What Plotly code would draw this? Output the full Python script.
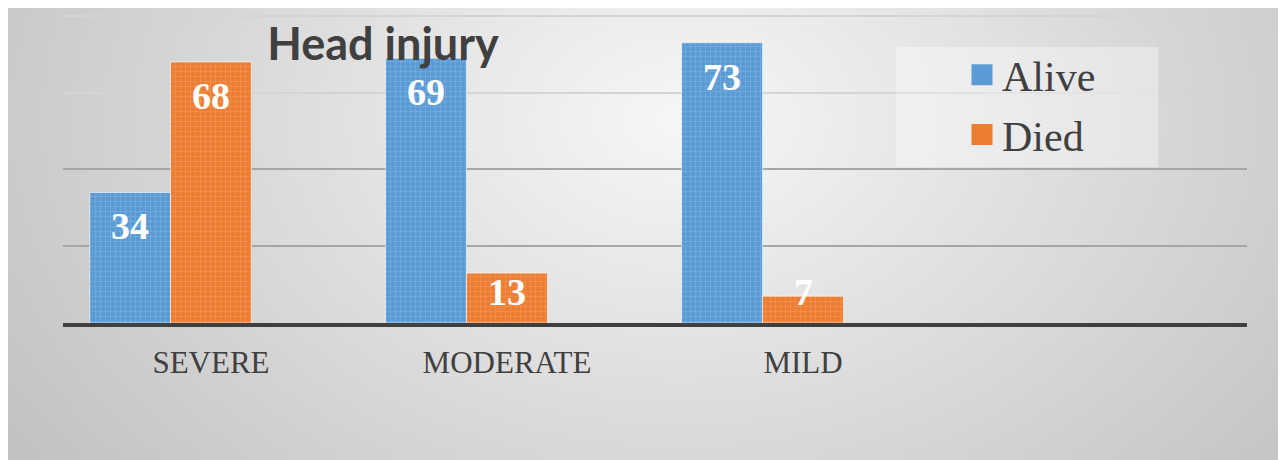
import base64
import struct
import zlib

import numpy as np
import plotly.graph_objects as go

# ---------------- data ----------------
categories = ["SEVERE", "MODERATE", "MILD", " "]
alive = [34, 69, 73, None]
died = [68, 13, 7, None]
spacer = [None, None, None, None]  # empty third series (keeps Excel's 3-slot grouping)
series_names = ["Alive", "Died"]
title_text = "Head injury"

# ---------------- styling ----------------
OFF = 8  # page body margin offset
W, H = 1286 - OFF, 460 - OFF
ML, MR, MT, MB = 63 - OFF, 39, 14 - OFF, 137
PW, PH = W - ML - MR, H - MT - MB
BLUE, ORANGE = "#5B9BD5", "#ED7D31"
BARGAP = 0.18
YMAX = 80.5


def fx(px):  # screen x -> paper x
    return (px - OFF - ML) / PW


def fy(py):  # screen y -> paper y
    return (H - MB - (py - OFF)) / PH


# ---------- background gradient image (radial grey) ----------
def png_gray(arr):
    h, w = arr.shape
    raw = b"".join(b"\x00" + arr[r].tobytes() for r in range(h))

    def chunk(t, d):
        return struct.pack(">I", len(d)) + t + d + struct.pack(">I", zlib.crc32(t + d) & 0xFFFFFFFF)

    return (b"\x89PNG\r\n\x1a\n" + chunk(b"IHDR", struct.pack(">IIBBBBB", w, h, 8, 0, 0, 0, 0))
            + chunk(b"IDAT", zlib.compress(raw, 9)) + chunk(b"IEND", b""))


gw, gh = 640, 226
xs = OFF + (np.arange(gw) + 0.5) * W / gw
ys = OFF + (np.arange(gh) + 0.5) * H / gh
XX, YY = np.meshgrid(xs, ys)
d = np.sqrt(((XX - 680) / 720) ** 2 + ((YY - 120) / 520) ** 2)
val = 247 - 47 * np.clip(d, 0, 1.15)
img = np.clip(val, 0, 255).astype(np.uint8)
uri = "data:image/png;base64," + base64.b64encode(png_gray(img)).decode()

fig = go.Figure()

pattern = dict(shape="+", size=5, solidity=0.25, fgcolor="rgba(255,255,255,0.35)")
fig.add_trace(go.Bar(x=categories, y=alive, name=series_names[0], showlegend=False,
                     marker=dict(color=BLUE, line=dict(color="rgba(255,255,255,0.6)", width=1),
                                 pattern=pattern)))
fig.add_trace(go.Bar(x=categories, y=died, name=series_names[1], showlegend=False,
                     marker=dict(color=ORANGE, line=dict(color="rgba(255,255,255,0.6)", width=1),
                                 pattern=pattern)))
fig.add_trace(go.Bar(x=categories, y=spacer, name="", showlegend=False, hoverinfo="skip"))

# legend entries with larger square swatches
for name, col, grp in [(series_names[0], BLUE, "a"), (series_names[1], ORANGE, "b")]:
    fig.add_trace(go.Scatter(x=[None], y=[None], mode="markers", name=name, legendgroup=grp,
                             marker=dict(symbol="square", size=16, color=col,
                                         line=dict(color=col, width=5))))

# data labels (inside end, clamped for short bars like Excel)
bar_px = PW / len(categories) * (1 - BARGAP) / 3
px_per_unit = PH / YMAX
for series, shift in [(alive, -1), (died, 0)]:
    for cat, v in zip(categories, series):
        if v is None:
            continue
        ylab = max(v - 34 / px_per_unit, 31 / px_per_unit)
        fig.add_annotation(x=cat, y=ylab, text=str(v), showarrow=False, xshift=shift * bar_px,
                           yanchor="middle",
                           font=dict(family="Liberation Serif", size=38, color="white", weight="bold"))

# legend backdrop
fig.add_shape(type="rect", xref="paper", yref="paper",
              x0=fx(896), x1=fx(1158), y0=fy(167), y1=fy(47),
              fillcolor="rgba(255,255,255,0.35)", line=dict(width=0), layer="above")

fig.add_layout_image(source=uri, xref="paper", yref="paper",
                     x=fx(OFF), y=fy(OFF), sizex=W / PW, sizey=H / PH,
                     sizing="stretch", xanchor="left", yanchor="top", layer="below")

fig.update_layout(
    width=W, height=H,
    margin=dict(l=ML, r=MR, t=MT, b=MB, pad=0),
    paper_bgcolor="white", plot_bgcolor="rgba(0,0,0,0)",
    barmode="group", bargap=BARGAP, bargroupgap=0,
    title=dict(text=title_text, x=(383 - OFF) / W, xref="container", xanchor="center",
               y=1 - (44 - OFF) / H, yref="container", yanchor="middle",
               font=dict(family="Lato", size=45, color="#404040", weight="bold")),
    legend=dict(x=fx(962), y=fy(41), xanchor="left", yanchor="top",
                bgcolor="rgba(0,0,0,0)", borderwidth=0, tracegroupgap=2,
                font=dict(family="Liberation Serif", size=42, color="#404040")),
    showlegend=True,
    xaxis=dict(showline=True, linecolor="#404040", linewidth=4, showgrid=False, ticks="",
               tickfont=dict(family="Liberation Serif", size=31, color="#404040"),
               ticklabelstandoff=9, fixedrange=True),
    yaxis=dict(range=[0, YMAX], tickmode="array", tickvals=[20, 40], showticklabels=False,
               showgrid=True, gridcolor="#a6a6a6", gridwidth=2, zeroline=False, ticks="",
               minor=dict(tickmode="array", tickvals=[60, 80], showgrid=True,
                          gridcolor="#d4d4d4", gridwidth=2, ticks=""),
               fixedrange=True),
)

fig.write_html("out.html")
